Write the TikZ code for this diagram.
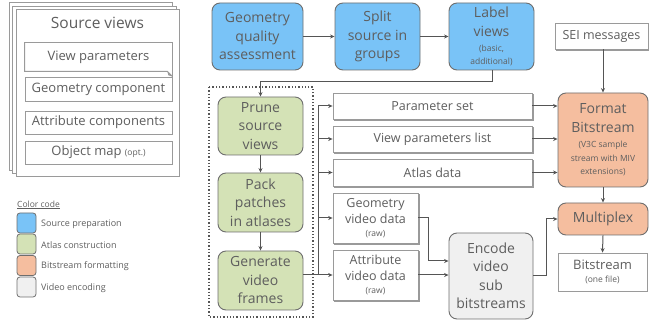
\documentclass[tikz,border=0pt]{standalone}
\usepackage{fontspec}
\setmainfont{Open Sans}
\usetikzlibrary{arrows.meta,shadows,positioning}
\definecolor{txt}{HTML}{5E5E5E}
\definecolor{ln}{HTML}{555555}
\definecolor{bord}{HTML}{6E6E6E}
\definecolor{bluef}{HTML}{79C3F7}
\definecolor{greenf}{HTML}{D4E2B6}
\definecolor{orangef}{HTML}{F5BE9F}
\definecolor{grayf}{HTML}{F0F0F0}
\definecolor{pagebd}{HTML}{9A9A9A}
\tikzset{
  proc/.style={draw=bord, line width=0.9pt, rounded corners=8pt, align=center, text=txt, inner sep=1pt,
    font=\fontsize{14}{18.5}\selectfont},
  blueb/.style={proc, fill=bluef},
  greenb/.style={proc, fill=greenf},
  orangeb/.style={proc, fill=orangef},
  grayb/.style={proc, fill=grayf},
  datab/.style={draw=pagebd, line width=0.8pt, fill=white, align=center, text=txt, inner sep=1pt,
    font=\fontsize{12.5}{16}\selectfont,
    copy shadow={shadow xshift=1.6pt, shadow yshift=-1.6pt, draw=pagebd, fill=white}},
  plainb/.style={draw=pagebd, line width=0.8pt, fill=white, align=center, text=txt, inner sep=1pt,
    font=\fontsize{12.5}{16}\selectfont},
  srcb/.style={plainb, font=\fontsize{13}{16}\selectfont},
  page/.style={draw=pagebd, line width=0.8pt, fill=white},
  arr/.style={draw=ln, line width=1pt, -{Stealth[length=4.5pt,width=4pt]}},
  lin/.style={draw=ln, line width=1pt},
  swatch/.style={draw=bord, line width=0.8pt, rounded corners=3pt, minimum width=19pt, minimum height=20pt, inner sep=0pt},
  legtxt/.style={anchor=west, text=txt, font=\fontsize{9}{11}\selectfont, inner sep=0pt},
}
\newcommand{\sm}[1]{{\fontsize{8.5}{10.5}\selectfont #1}}
\begin{document}
\begin{tikzpicture}[x=1pt,y=-1pt]
\useasboundingbox (0,0) rectangle (649,320);
% ---- Source views stack
\draw[page] (9.3,2.7) rectangle (172.7,170);
\draw[page] (12.7,6) rectangle (176,173.3);
\draw[page] (16,9.3) rectangle (179.3,176.7);
\node[text=txt, font=\fontsize{15.5}{18}\selectfont] (svt) at (97.5,23) {Source views};
\node[srcb, draw=none, minimum width=147pt, minimum height=28pt] (vp) at (98.5,57) {View parameters};
\draw[draw=pagebd, line width=0.8pt] (vp.north west) -- (vp.north east) -- ([yshift=-5pt]vp.south east) -- ([xshift=-5pt]vp.south east) -- (vp.south west) -- cycle;
\fill[pagebd] ([yshift=-5pt]vp.south east) -- ([xshift=-5pt]vp.south east) -- ([xshift=-4pt,yshift=-4pt]vp.south east) -- cycle;
\node[srcb, minimum width=147pt, minimum height=24pt] (gc) at (98.5,89) {Geometry component};
\node[srcb, minimum width=147pt, minimum height=23pt] (ac) at (98.5,122.5) {Attribute components};
\node[srcb, minimum width=147pt, minimum height=23pt] (om) at (98.5,152.5) {Object map \sm{(opt.)}};
% ---- legend
\node[legtxt, font=\fontsize{8.5}{10}\selectfont] (cc) at (17,205) {\underline{Color code}};
\node[swatch, fill=bluef] (s1) at (26.5,223) {};
\node[swatch, fill=greenf] (s2) at (26.5,244) {};
\node[swatch, fill=orangef] (s3) at (26.5,265.5) {};
\node[swatch, fill=grayf] (s4) at (26.5,287) {};
\node[legtxt] (l1) at (41,224) {Source preparation};
\node[legtxt] (l2) at (41,245) {Atlas construction};
\node[legtxt] (l3) at (41,266.5) {Bitstream formatting};
\node[legtxt] (l4) at (41,288) {Video encoding};
% ---- top row
\node[blueb, minimum width=91pt, minimum height=67pt] (gqa) at (257.5,36.5) {Geometry\\quality\\assessment};
\node[blueb, minimum width=85pt, minimum height=67pt] (split) at (377.5,36.5) {Split\\source in\\groups};
\node[blueb, minimum width=85pt, minimum height=67pt] (label) at (491.5,36.5) {Label\\views\\[-3pt]{\fontsize{8.5}{10.5}\selectfont (basic,}\\[-6pt]{\fontsize{8.5}{10.5}\selectfont additional)}};
\node[datab, minimum width=93pt, minimum height=26pt] (sei) at (601.5,36) {SEI messages};
% ---- atlas construction
\draw[ln, line width=1.3pt, dotted] (209,87) rectangle (313,317);
\node[greenb, minimum width=85pt, minimum height=58pt] (prune) at (260.5,126) {Prune\\source\\views};
\node[greenb, minimum width=85pt, minimum height=59pt] (pack) at (260.5,202.5) {Pack\\patches\\in atlases};
\node[greenb, minimum width=85pt, minimum height=59pt] (gen) at (260.5,280.5) {Generate\\video\\frames};
% ---- data
\node[datab, minimum width=199pt, minimum height=26pt] (pset) at (432.5,106) {Parameter set};
\node[datab, minimum width=199pt, minimum height=26pt] (vpl) at (432.5,139) {View parameters list};
\node[datab, minimum width=199pt, minimum height=27pt] (atl) at (432.5,172.5) {Atlas data};
\node[datab, minimum width=85pt, minimum height=50pt] (geo) at (375.5,218) {Geometry\\video data\\[-3pt]\sm{(raw)}};
\node[datab, minimum width=85pt, minimum height=50pt] (attr) at (375.5,275) {Attribute\\video data\\[-3pt]\sm{(raw)}};
% ---- right column
\node[orangeb, minimum width=90pt, minimum height=94pt] (fmt) at (603,140) {Format\\Bitstream\\[-3pt]{\fontsize{8.5}{11}\selectfont (V3C sample}\\[-5pt]{\fontsize{8.5}{11}\selectfont stream with MIV}\\[-5pt]{\fontsize{8.5}{11}\selectfont extensions)}};
\node[orangeb, minimum width=90pt, minimum height=32pt] (mux) at (603,219) {Multiplex};
\node[plainb, font=\fontsize{13}{16}\selectfont, minimum width=89pt, minimum height=38pt] (bits) at (602.5,272) {Bitstream\\[-3pt]\sm{(one file)}};
\node[grayb, minimum width=84pt, minimum height=86pt] (enc) at (491,276) {Encode\\video\\sub\\bitstreams};
% ---- connectors
\coordinate (busT) at (318,106);
\coordinate (busB) at (318,275);
\coordinate (lv1) at (492,82);
\coordinate (gj) at (428,218);
\coordinate (ej) at (546,276);
\draw[arr] (gqa.east) -- (split.west);
\draw[arr] (split.east) -- (label.west);
\draw[arr] (lv1 |- label.south) -- (lv1) -- (prune.north |- lv1) -- (prune.north);
\draw[arr] (sei.south -| fmt.north) -- (fmt.north);
\draw[arr] (prune) -- (pack);
\draw[arr] (pack) -- (gen);
\draw[lin] (busT) -- (busB);
\draw[arr] (gen.east |- attr.west) -- (attr.west);
\draw[arr] (busT) -- (pset.west);
\draw[arr] (busT |- vpl.west) -- (vpl.west);
\draw[arr] (busT |- atl.west) -- (atl.west);
\draw[arr] (busT |- geo.west) -- (geo.west);
\draw[arr] (pset.east) -- (fmt.west |- pset.east);
\draw[arr] (vpl.east) -- (fmt.west |- vpl.east);
\draw[arr] (atl.east) -- (fmt.west |- atl.east);
\draw[arr] (geo.east) -- (gj) -- (gj |- 0,261) -- (enc.west |- 0,261);
\draw[arr] (attr.east) -- (enc.west |- attr.east);
\draw[arr] (ej -| enc.east) -- (ej) -- (ej |- mux.west) -- (mux.west);
\draw[arr] (fmt.south) -- (mux.north);
\draw[arr] (mux.south) -- (bits.north);
\end{tikzpicture}
\end{document}
